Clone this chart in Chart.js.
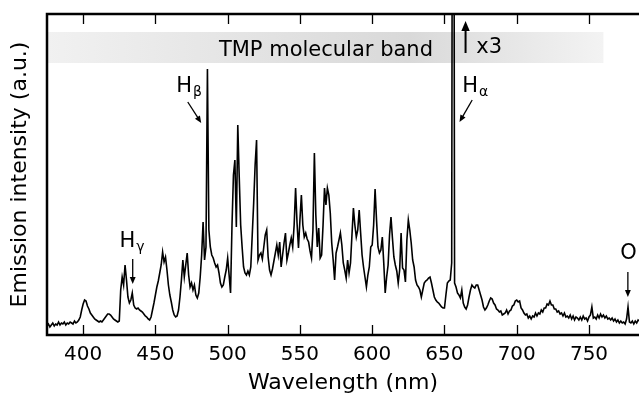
<!DOCTYPE html>
<html>
<head>
<meta charset="utf-8">
<script src="https://cdn.jsdelivr.net/npm/chart.js@4.4.1/dist/chart.umd.min.js"></script>
<style>
  html, body { margin: 0 ; padding: 0 ; background: #fff ; }
  #wrap { width: 639px ; height: 401px ; }
</style>
</head>
<body>
<div id="wrap"><canvas id="spectrum" width="639" height="401"></canvas></div>
<script>
// ---------------- Spectrum data -----------------------------------------
// one sample per nm, starting at 375 nm ; intensity in arbitrary units
const wavelengthStartNm = 375 ;

const intensity375to424 = [
   9, 11,  8, 10, 12,  9, 11, 10, 13, 10,
  12, 11, 13, 10, 12, 11, 13, 12, 11, 14,
  12, 13, 15, 18, 25, 31, 35, 34, 29, 26,
  22, 20, 18, 16, 15, 14, 13, 14, 13, 15,
  17, 19, 21, 21, 20, 18, 16, 15, 14, 13 ] ;

const intensity425to474 = [
  14, 45, 58, 50, 70, 55, 38, 32, 35, 42,
  30, 27, 26, 27, 25, 24, 23, 21, 19, 18,
  16, 15, 18, 25, 32, 40, 48, 54, 62, 70,
  83, 73, 78, 65, 50, 40, 33, 25, 20, 18,
  19, 25, 38, 55, 75, 58, 70, 82, 60, 48 ] ;

const intensity475to524 = [
  52, 45, 50, 40, 37, 42, 58, 80, 113, 75,
  88, 266, 105, 88, 80, 77, 72, 68, 70, 62,
  52, 48, 50, 58, 65, 77, 60, 42, 110, 160,
  175, 108, 210, 158, 110, 88, 68, 62, 60, 64,
  60, 68, 100, 132, 170, 195, 75, 80, 82, 76 ] ;

const intensity525to574 = [
  88, 100, 105, 78, 65, 60, 66, 74, 82, 90,
  80, 93, 68, 80, 92, 102, 75, 82, 90, 97,
  88, 110, 147, 112, 87, 115, 140, 110, 98, 102,
  96, 93, 84, 77, 105, 182, 120, 88, 107, 77,
  80, 110, 147, 130, 147, 140, 122, 92, 75, 55 ] ;

const intensity575to624 = [
  82, 88, 95, 102, 90, 72, 65, 57, 75, 62,
  72, 100, 127, 110, 98, 105, 125, 102, 80, 68,
  58, 48, 60, 68, 88, 90, 110, 146, 115, 88,
  82, 85, 98, 72, 42, 58, 70, 100, 118, 97,
  78, 70, 64, 52, 65, 102, 67, 65, 53, 95 ] ;

const intensity625to674 = [
  115, 105, 92, 75, 68, 55, 50, 48, 45, 38,
  45, 52, 54, 55, 57, 58, 52, 45, 38, 35,
  33, 32, 30, 28, 27, 27, 40, 52, 54, 55,
  72, 1000, 52, 48, 42, 40, 37, 45, 32, 28,
  26, 30, 38, 45, 50, 48, 47, 50, 50, 45 ] ;

const intensity675to724 = [
  40, 35, 28, 25, 27, 30, 34, 37, 36, 32,
  30, 26, 25, 23, 24, 20, 21, 22, 25, 21,
  24, 25, 29, 30, 34, 35, 33, 34, 27, 25,
  22, 20, 21, 17, 19, 16, 19, 18, 22, 19,
  22, 21, 25, 23, 27, 27, 31, 30, 34, 30 ] ;

const intensity725to785 = [
  30, 26, 26, 23, 24, 21, 22, 19, 22, 18,
  19, 17, 20, 16, 19, 15, 18, 17, 15, 18,
  15, 19, 16, 17, 14, 18, 20, 28, 17, 18,
  16, 20, 17, 21, 18, 20, 17, 19, 16, 17,
  15, 17, 14, 16, 13, 15, 12, 14, 12, 13,
  11, 16, 28, 13, 12, 14, 11, 14, 12, 15, 14 ] ;

const wavelengthTicks = [ 400, 450, 500, 550, 600, 650, 700, 750 ] ;

// ---------------- Annotations (data coordinates: nm, intensity) --------
const bandRangeNm = [ 375, 760 ] ;
const bandRangeIntensity = [ 272, 303 ] ;
const bandText = 'TMP molecular band' ;

const lineLabels = [
  { main: 'H', sub: 'β', nm: 464.4, val: 243 },
  { main: 'H', sub: 'α', nm: 662.3, val: 243 },
  { main: 'H', sub: 'γ', nm: 425.1, val: 88 },
  { main: 'O', sub: '',  nm: 771.6, val: 76 }
] ;

// [ from nm, from intensity, to nm, to intensity, line width, head length ]
const lineArrows = [
  { from: [ 472.4, 233 ], to: [ 481.7, 212 ], w: 1.3, head: 7 },    // H beta
  { from: [ 669.2, 235 ], to: [ 660.4, 213 ], w: 1.3, head: 7 },    // H alpha
  { from: [ 434.3, 76 ],  to: [ 434.3, 51 ],  w: 1.3, head: 7 },    // H gamma
  { from: [ 776.9, 63 ],  to: [ 776.9, 38 ],  w: 1.3, head: 7 },    // O
  { from: [ 664.6, 282 ], to: [ 664.6, 314 ], w: 2.0, head: 10 }    // x3 scale mark
] ;

// ------------------------------------------------------------------------
const allIntensity = [].concat( intensity375to424, intensity425to474,
                                intensity475to524, intensity525to574,
                                intensity575to624, intensity625to674,
                                intensity675to724, intensity725to785 ) ;

const spectrumPoints = allIntensity.map( function( v, i ) {
  return { x: wavelengthStartNm + i, y: v } ;
} ) ;

Chart.defaults.font.family = "'DejaVu Sans', sans-serif" ;
Chart.defaults.color = '#000' ;

function drawArrow( ctx, x1, y1, x2, y2, len ) {
  const ang = Math.atan2( y2 - y1, x2 - x1 ) ;
  const half = len * 0.42 ;
  ctx.beginPath() ;
  ctx.moveTo( x1, y1 ) ;
  ctx.lineTo( x2 - Math.cos( ang ) * len * 0.6, y2 - Math.sin( ang ) * len * 0.6 ) ;
  ctx.stroke() ;
  ctx.beginPath() ;
  ctx.moveTo( x2, y2 ) ;
  ctx.lineTo( x2 - len * Math.cos( ang ) + half * Math.sin( ang ),
              y2 - len * Math.sin( ang ) - half * Math.cos( ang ) ) ;
  ctx.lineTo( x2 - len * Math.cos( ang ) - half * Math.sin( ang ),
              y2 - len * Math.sin( ang ) + half * Math.cos( ang ) ) ;
  ctx.closePath() ;
  ctx.fill() ;
}

const spectrumDecor = {
  id: 'spectrumDecor',

  beforeDatasetsDraw( chart ) {
    const { ctx, scales: { x, y } } = chart ;
    const x0 = x.getPixelForValue( bandRangeNm[0] ) ;
    const x1 = x.getPixelForValue( bandRangeNm[1] ) ;
    const y0 = y.getPixelForValue( bandRangeIntensity[1] ) ;
    const y1 = y.getPixelForValue( bandRangeIntensity[0] ) ;
    ctx.save() ;
    const grad = ctx.createLinearGradient( x0, 0, x1, 0 ) ;
    grad.addColorStop( 0, '#f1f1f1' ) ;
    grad.addColorStop( 0.65, '#d9d9d9' ) ;
    grad.addColorStop( 1, '#f3f3f3' ) ;
    ctx.fillStyle = grad ;
    ctx.fillRect( x0, y0, x1 - x0, y1 - y0 ) ;
    ctx.fillStyle = '#000' ;
    ctx.font = '21px "DejaVu Sans"' ;
    ctx.textAlign = 'center' ;
    ctx.textBaseline = 'alphabetic' ;
    ctx.fillText( bandText, x.getPixelForValue( 568 ), y.getPixelForValue( 279 ) ) ;
    ctx.restore() ;
  },

  afterDatasetsDraw( chart ) {
    const { ctx, chartArea: a, scales: { x, y } } = chart ;
    ctx.save() ;
    ctx.strokeStyle = '#000' ;
    ctx.fillStyle = '#000' ;

    // inward tick marks, bottom and top
    ctx.lineWidth = 1.3 ;
    wavelengthTicks.forEach( function( t ) {
      const px = Math.round( x.getPixelForValue( t ) ) + 0.5 ;
      ctx.beginPath() ;
      ctx.moveTo( px, a.bottom ) ; ctx.lineTo( px, a.bottom - 10 ) ;
      ctx.moveTo( px, a.top ) ;    ctx.lineTo( px, a.top + 10 ) ;
      ctx.stroke() ;
    } ) ;

    // frame: left, top, bottom (right edge is off the picture)
    ctx.lineWidth = 2.5 ;
    ctx.beginPath() ;
    ctx.moveTo( chart.width + 5, a.top ) ;
    ctx.lineTo( a.left, a.top ) ;
    ctx.lineTo( a.left, a.bottom ) ;
    ctx.lineTo( chart.width + 5, a.bottom ) ;
    ctx.stroke() ;

    // arrows
    lineArrows.forEach( function( ar ) {
      ctx.lineWidth = ar.w ;
      drawArrow( ctx,
                 x.getPixelForValue( ar.from[0] ), y.getPixelForValue( ar.from[1] ),
                 x.getPixelForValue( ar.to[0] ),   y.getPixelForValue( ar.to[1] ),
                 ar.head ) ;
    } ) ;

    // line labels with subscripts
    ctx.textAlign = 'left' ;
    ctx.textBaseline = 'alphabetic' ;
    lineLabels.forEach( function( lb ) {
      const px = x.getPixelForValue( lb.nm ) ;
      const py = y.getPixelForValue( lb.val ) ;
      ctx.font = '21px "DejaVu Sans"' ;
      ctx.fillText( lb.main, px, py ) ;
      if ( lb.sub ) {
        const w = ctx.measureText( lb.main ).width ;
        ctx.font = '14px "DejaVu Sans"' ;
        ctx.fillText( lb.sub, px + w + 1, py + 4 ) ;
      }
    } ) ;

    ctx.font = '21px "DejaVu Sans"' ;
    ctx.fillText( 'x3', x.getPixelForValue( 672 ), y.getPixelForValue( 282 ) ) ;
    ctx.restore() ;
  }
} ;

const chart = new Chart( document.getElementById( 'spectrum' ), {
  type: 'line',
  data: {
    datasets: [ {
      label: 'Emission',
      data: spectrumPoints,
      borderColor: '#000',
      borderWidth: 1.6,
      pointRadius: 0,
      tension: 0,
      fill: false
    } ]
  },
  options: {
    responsive: false,
    animation: false,
    devicePixelRatio: 1,
    layout: { padding: { left: 0, top: 14, right: 0, bottom: 0 } },
    plugins: { legend: { display: false }, tooltip: { enabled: false } },
    scales: {
      x: {
        type: 'linear',
        min: 375,
        max: 784.6,
        afterBuildTicks: function( s ) {
          s.ticks = wavelengthTicks.map( function( v ) { return { value: v } ; } ) ;
        },
        afterFit: function( s ) { s.height = 66 ; },
        ticks: { font: { size: 20 }, padding: 8, maxRotation: 0 },
        grid: { display: false, drawTicks: false },
        border: { display: false },
        title: { display: true, text: 'Wavelength (nm)', font: { size: 22 },
                 padding: { top: 0, bottom: 5 } }
      },
      y: {
        min: 0,
        max: 321,
        afterFit: function( s ) { s.width = 47 ; },
        ticks: { display: false },
        grid: { display: false, drawTicks: false },
        border: { display: false },
        title: { display: true, text: 'Emission intensity (a.u.)', font: { size: 22 },
                 padding: { top: 7, bottom: 0 } }
      }
    }
  },
  plugins: [ spectrumDecor ]
} ) ;
</script>
</body>
</html>
